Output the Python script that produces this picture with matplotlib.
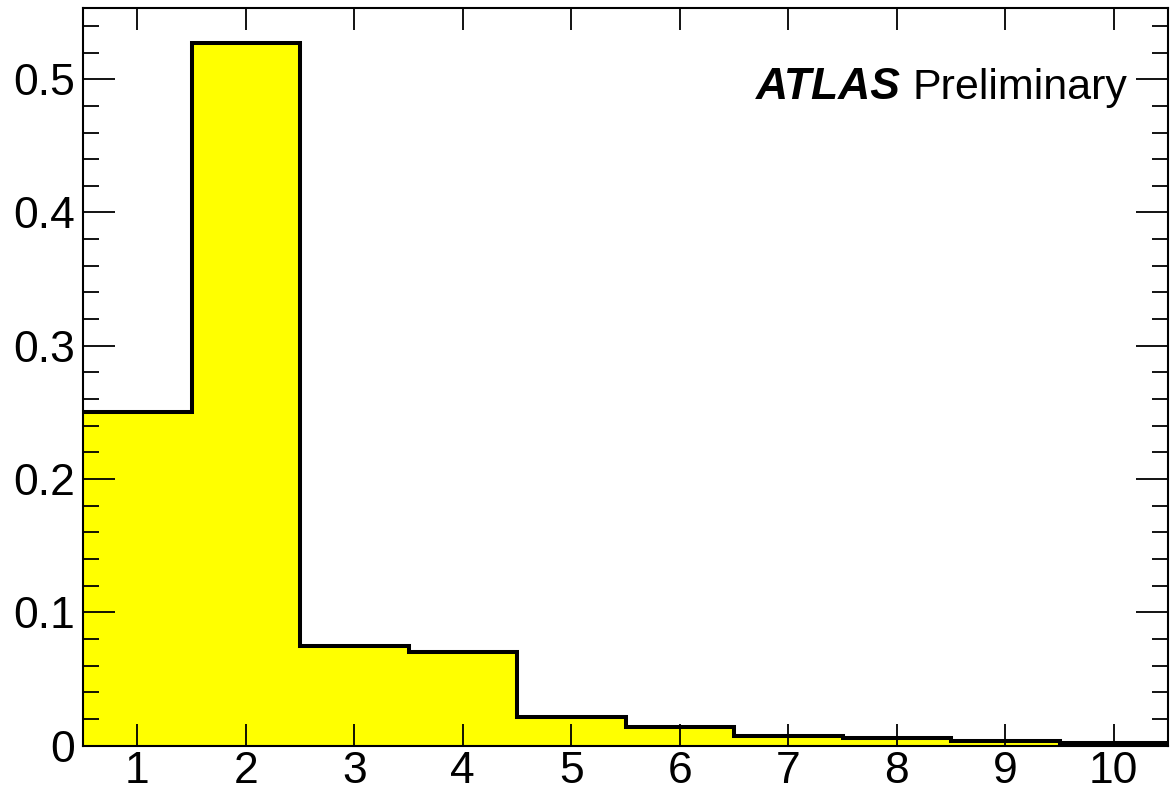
import matplotlib
matplotlib.use("Agg")
import matplotlib.pyplot as plt
from matplotlib.ticker import MultipleLocator

bin_edges = [0.5, 1.5, 2.5, 3.5, 4.5, 5.5, 6.5, 7.5, 8.5, 9.5, 10.5]
fractions = [0.2506, 0.527, 0.0748, 0.0700, 0.0218, 0.0143, 0.0075, 0.0055, 0.0038, 0.0023]
x_ticks = [1, 2, 3, 4, 5, 6, 7, 8, 9, 10]
y_ticks = [0, 0.1, 0.2, 0.3, 0.4, 0.5]
y_tick_labels = ["0", "0.1", "0.2", "0.3", "0.4", "0.5"]

plt.rcParams['font.family'] = ['Liberation Sans', 'DejaVu Sans']

fig = plt.figure(figsize=(11.72, 7.91), dpi=100)
ax = fig.add_axes([83/1172, 1 - 745.7/791, (1168 - 83)/1172, (745.7 - 8)/791])

ax.stairs(fractions, bin_edges, fill=True, facecolor="#ffff00", edgecolor="none", baseline=0)
ax.stairs(fractions, bin_edges, baseline=None, color="black", linewidth=2.9)

ax.set_xlim(0.5, 10.5)
ax.set_ylim(0, 0.5534)

ax.set_xticks(x_ticks)
ax.set_xticklabels([str(t) for t in x_ticks])
ax.set_yticks(y_ticks)
ax.set_yticklabels(y_tick_labels)
ax.yaxis.set_minor_locator(MultipleLocator(0.02))

ax.tick_params(axis='both', which='both', direction='in', top=True, right=True,
               labelsize=32, width=1.3, color='black')
ax.tick_params(axis='y', which='major', length=23, pad=6)
ax.tick_params(axis='y', which='minor', length=11.5)
ax.tick_params(axis='x', which='major', length=16, pad=4)

for s in ax.spines.values():
    s.set_linewidth(1.5)
    s.set_zorder(5)

ax.text(10.13, 0.485, "Preliminary", fontsize=31, ha='right', va='baseline')
ax.text(8.04, 0.485, "ATLAS", fontsize=32, ha='right', va='baseline',
        fontweight='bold', fontstyle='italic')

fig.savefig("out.png", dpi=100)
